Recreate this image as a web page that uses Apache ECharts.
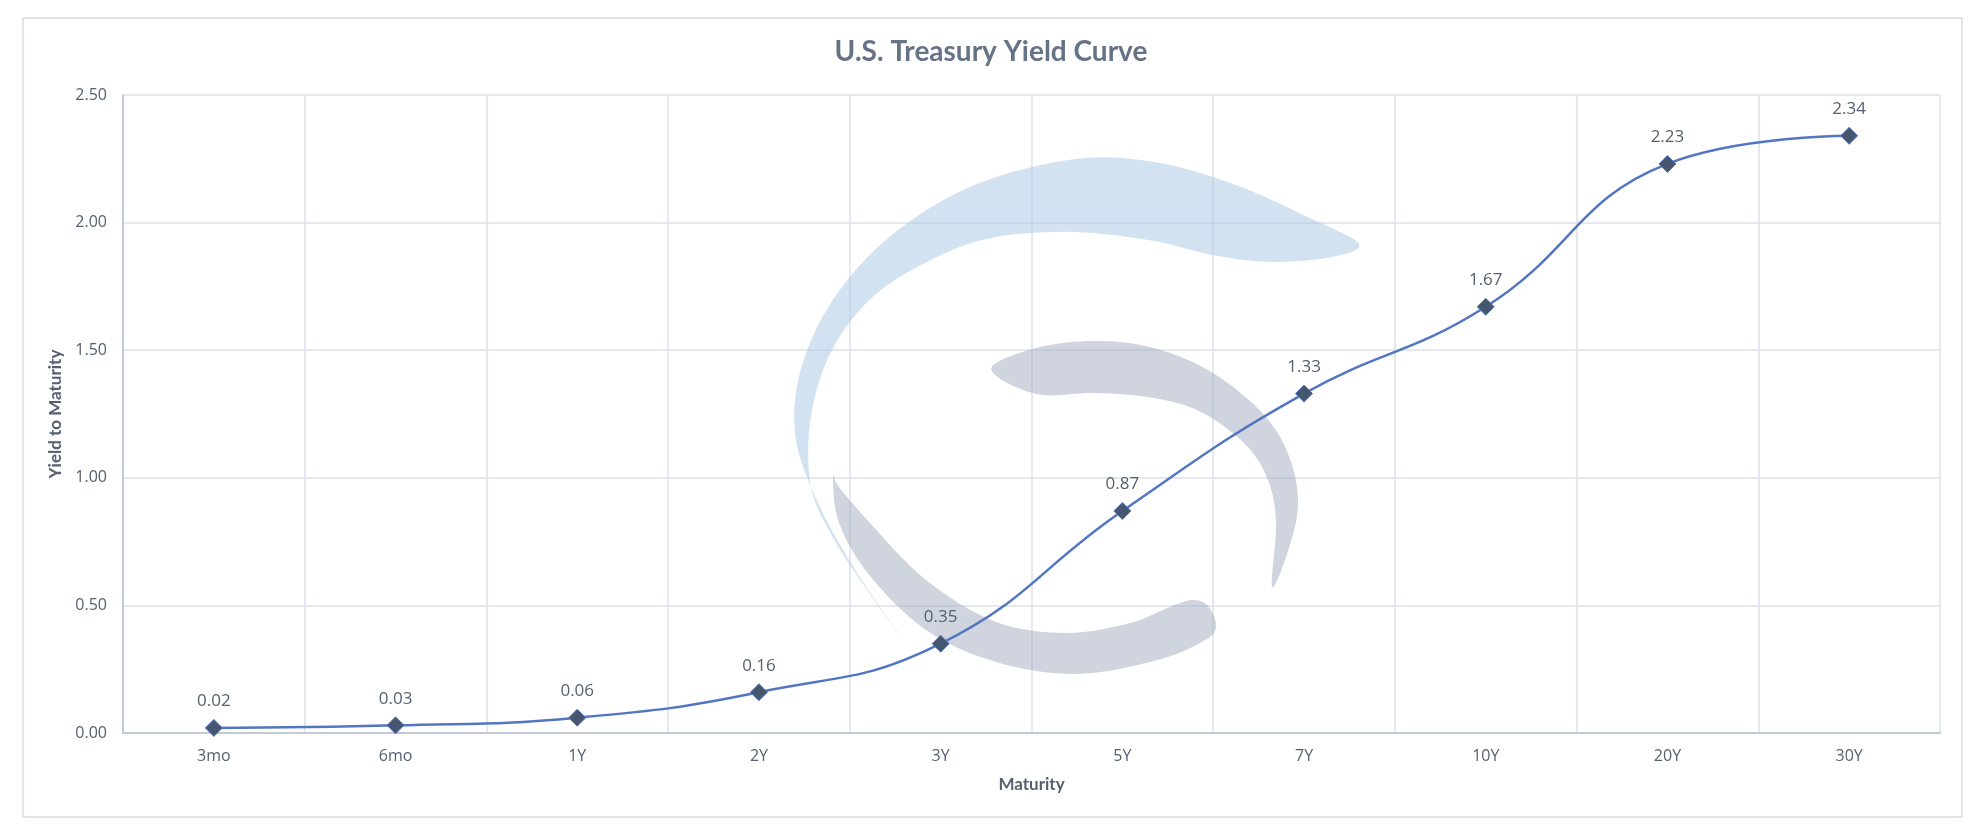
<!DOCTYPE html>
<html>
<head>
<meta charset="utf-8">
<title>U.S. Treasury Yield Curve</title>
<script src="https://cdn.jsdelivr.net/npm/echarts@6/dist/echarts.min.js"></script>
<style>
    html, body { margin: 0; padding: 0; background: #ffffff; }
    #myChart { width: 1982px; height: 834px; }
</style>
</head>
<body>
<div id="myChart"></div>
<script>
// maturities and yields
var maturities = ['3mo', '6mo', '1Y', '2Y', '3Y', '5Y', '7Y', '10Y', '20Y', '30Y'];
var yields = [0.02, 0.03, 0.06, 0.16, 0.35, 0.87, 1.33, 1.67, 2.23, 2.34];
var yTicks = { min: 0, max: 2.5, interval: 0.5 };

// watermark outlines (decoration only, in pixels)
var blueMark = [[1359, 244], [1312, 219], [1233, 184], [1154, 162], [1075, 159], [977, 184], [898, 230],
    [839, 291], [803, 362], [795, 434], [819, 505], [859, 576], [902, 638],
    [870, 594], [835, 541], [811, 487], [811, 416], [833, 348], [876, 294], [937, 257], [996, 237],
    [1075, 232], [1154, 241], [1213, 255], [1272, 262], [1332, 257]];
var greyTop = [[991, 369], [1036, 348], [1095, 341], [1154, 348], [1213, 373], [1265, 416], [1290, 459],
    [1298, 505], [1288, 551], [1272, 587],
    [1276, 523], [1268, 480], [1245, 444], [1201, 412], [1154, 398], [1095, 393], [1036, 394]];
var greyBottom = [[833, 476], [839, 523], [870, 576], [926, 630], [996, 662], [1075, 674], [1154, 661],
    [1200, 643], [1216, 628], [1208, 606], [1192, 600], [1170, 607],
    [1130, 623], [1067, 633], [996, 622], [926, 580], [870, 523], [839, 487]];

function loopPoints(pts) {
    // sample a closed catmull-rom curve through the outline points
    var n = pts.length, out = [];
    for (var i = 0; i < n; i++) {
        var p0 = pts[(i - 1 + n) % n], p1 = pts[i], p2 = pts[(i + 1) % n], p3 = pts[(i + 2) % n];
        for (var s = 0; s < 8; s++) {
            var t = s / 8, t2 = t * t, t3 = t2 * t;
            var pt = [0, 1].map(function (k) {
                return 0.5 * ((2 * p1[k]) + (-p0[k] + p2[k]) * t +
                    (2 * p0[k] - 5 * p1[k] + 4 * p2[k] - p3[k]) * t2 +
                    (-p0[k] + 3 * p1[k] - 3 * p2[k] + p3[k]) * t3);
            });
            out.push(pt);
        }
    }
    return out;
}

window.onload = function () {
    var myChart = echarts.init(document.getElementById('myChart'));
    var textColor = '#576071';

    var option = {
        backgroundColor: '#ffffff',
        animation: false,
        title: {
            text: 'U.S. Treasury Yield Curve',
            left: 'center',
            top: 33,
            textStyle: {
                fontFamily: 'Lato',
                fontSize: 28,
                fontWeight: 'bold',
                color: '#667387'
            }
        },
        grid: {
            left: 123,
            right: 42,
            top: 95,
            bottom: 101
        },
        graphic: [
            {
                type: 'rect',
                shape: { x: 23, y: 18, width: 1939, height: 799 },
                style: { fill: 'none', stroke: '#dadde3', lineWidth: 1.5 },
                z: 0
            },
            {
                type: 'polygon',
                shape: { points: loopPoints(blueMark) },
                style: { fill: 'rgba(167,197,225,0.5)' },
                z: 1
            },
            {
                type: 'polygon',
                shape: { points: loopPoints(greyTop) },
                style: { fill: 'rgba(160,170,190,0.5)' },
                z: 1
            },
            {
                type: 'polygon',
                shape: { points: loopPoints(greyBottom) },
                style: { fill: 'rgba(160,170,190,0.5)' },
                z: 1
            }
        ],
        xAxis: {
            type: 'category',
            data: maturities,
            boundaryGap: true,
            name: 'Maturity',
            nameLocation: 'middle',
            nameGap: 43,
            nameTextStyle: {
                fontFamily: 'Lato',
                fontSize: 17,
                fontWeight: 'bold',
                color: textColor
            },
            axisLine: { show: true, lineStyle: { color: '#b8c0cf', width: 1.5 } },
            axisTick: { show: false },
            axisLabel: {
                margin: 15,
                fontFamily: 'Open Sans',
                fontSize: 16,
                color: textColor
            },
            splitLine: {
                show: true,
                interval: 0,
                lineStyle: { color: '#dde1e8', width: 1.5 }
            }
        },
        yAxis: {
            type: 'value',
            min: yTicks.min,
            max: yTicks.max,
            interval: yTicks.interval,
            name: 'Yield to Maturity',
            nameLocation: 'middle',
            nameGap: 55,
            nameTextStyle: {
                fontFamily: 'Lato',
                fontSize: 17,
                fontWeight: 'bold',
                color: textColor
            },
            axisLine: { show: true, lineStyle: { color: '#b8c0cf', width: 1.5 } },
            axisTick: { show: false },
            axisLabel: {
                margin: 16,
                fontFamily: 'Open Sans',
                fontSize: 16,
                color: textColor,
                formatter: function (v) { return v.toFixed(2); }
            },
            splitLine: { lineStyle: { color: '#dde1e8', width: 1.5 } }
        },
        series: [
            {
                name: 'Yield',
                type: 'line',
                data: yields,
                smooth: 0.45,
                symbol: 'diamond',
                symbolSize: 17,
                z: 3,
                lineStyle: { color: '#5276c2', width: 2.5 },
                itemStyle: { color: '#46566f', borderColor: '#5276c2', borderWidth: 1 },
                label: {
                    show: true,
                    position: 'top',
                    distance: 9,
                    fontFamily: 'Open Sans',
                    fontSize: 17,
                    color: textColor,
                    formatter: function (p) { return p.value.toFixed(2); }
                }
            }
        ]
    };
    myChart.setOption(option);
};
</script>
</body>
</html>
